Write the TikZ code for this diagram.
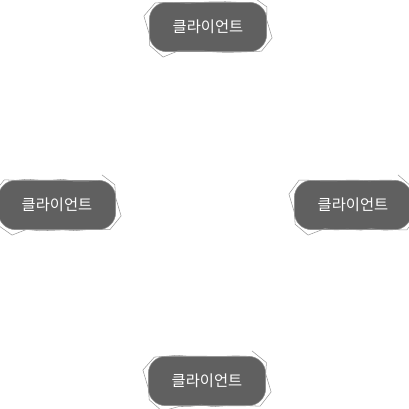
\documentclass[tikz,border=0pt]{standalone}
\usepackage{fontspec}
\newfontfamily\krfont{Noto Sans CJK KR}
\usetikzlibrary{positioning,decorations.pathmorphing}
\definecolor{clientgray}{HTML}{606060}

\begin{document}
\begin{tikzpicture}[x=0.75pt, y=0.75pt,
                    clientnode/.style={rounded corners=13pt, fill=clientgray, draw=black!45, thin, text=white,
                        font=\krfont\fontsize{11.5}{13}\selectfont, minimum width=88pt, minimum height=37pt, inner sep=0pt,
                        postaction={draw=black!40, sharp corners, decorate, decoration={random steps, segment length=9pt, amplitude=0.9pt}}},
                ]
                    \useasboundingbox (0,0) rectangle (409,409);

                    %Nodes
                    \node[clientnode](top) at (208,382) {클라이언트};
                    \node[clientnode](left) at (57,204) {클라이언트};
                    \node[clientnode](right) at (353,204) {클라이언트};
                    \node[clientnode](bottom) at (207,28) {클라이언트};
                \end{tikzpicture}
\end{document}
